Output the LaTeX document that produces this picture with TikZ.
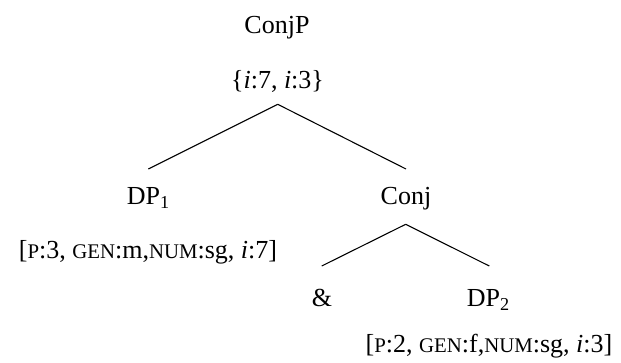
\documentclass[tikz,border=0pt]{standalone}
\usepackage{fontspec}
\setmainfont{Liberation Serif}
\newcommand{\fsc}[1]{{\fontsize{9.6}{10}\selectfont #1}}
\newcommand{\subsc}[1]{\raisebox{-0.35ex}{\fontsize{8.4}{9}\selectfont #1}}
\begin{document}
\begin{tikzpicture}[x=0.4615pt,y=-0.4615pt,
  lbl/.style={inner sep=0pt,anchor=base,font=\fontsize{12}{14}\selectfont},
  branch/.style={line width=0.5pt,black}]
\useasboundingbox (0,0) rectangle (621,362);
\node[lbl] (conjp) at (277,33) {ConjP};
\node[lbl] (set) at (277.5,88) {\{\textit{i}:7, \textit{i}:3\}};
\node[lbl] (dp1) at (148,204) {DP\subsc{1}};
\node[lbl] (f1) at (148,258) {[\fsc{P}:3, \fsc{GEN}:m,\fsc{NUM}:sg, \textit{i}:7]};
\node[lbl] (conj) at (406,204) {Conj};
\node[lbl] (amp) at (322,306) {\&};
\node[lbl] (dp2) at (488,306) {DP\subsc{2}};
\node[lbl] (f2) at (489,352) {[\fsc{P}:2, \fsc{GEN}:f,\fsc{NUM}:sg, \textit{i}:3]};
\coordinate (top) at (277.7,104.3);
\coordinate (dp1top) at (148.3,169);
\coordinate (conjtop) at (406,169);
\coordinate (conjbot) at (405.7,224.3);
\coordinate (amptop) at (321.7,266);
\coordinate (dp2top) at (489.3,266);
\draw[branch] (top) -- (dp1top);
\draw[branch] (top) -- (conjtop);
\draw[branch] (conjbot) -- (amptop);
\draw[branch] (conjbot) -- (dp2top);
\end{tikzpicture}
\end{document}
